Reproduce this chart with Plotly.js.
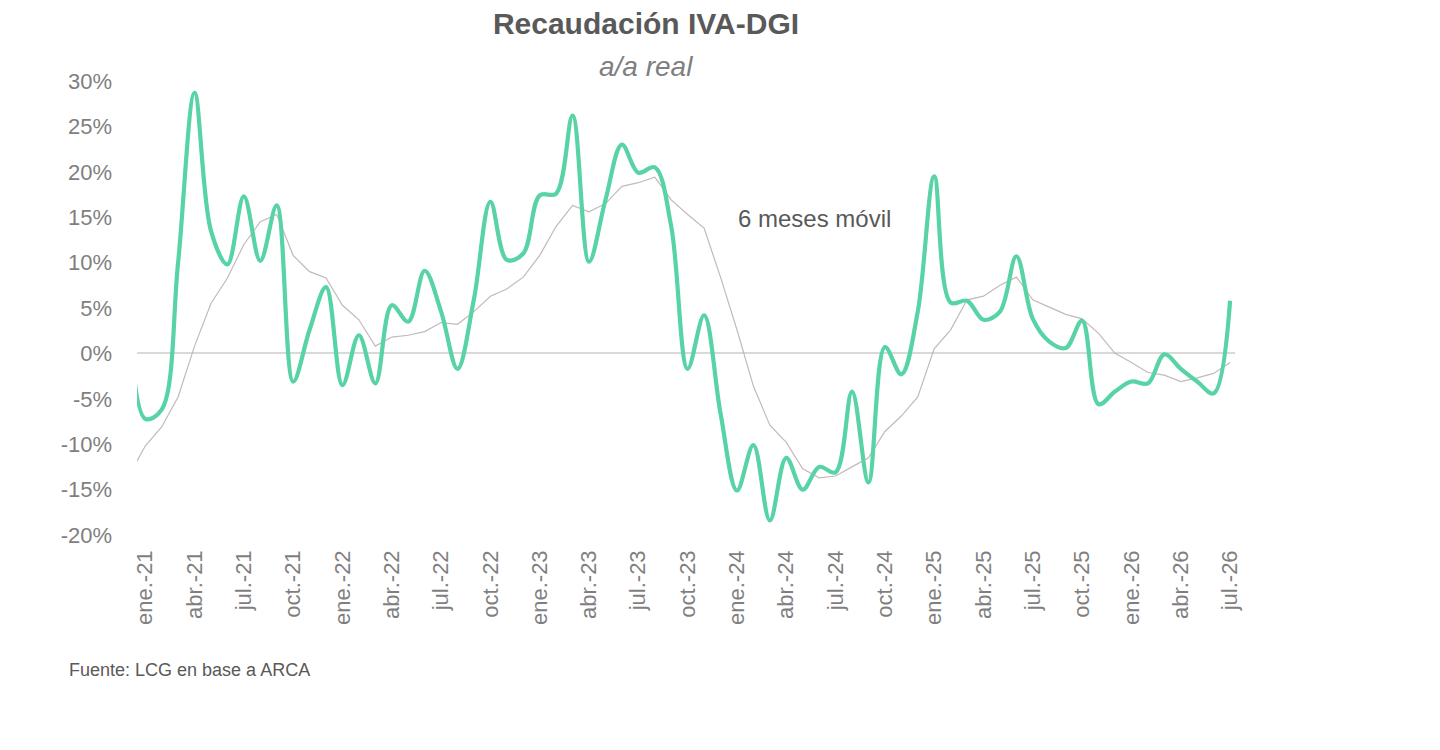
<!DOCTYPE html>
<html>
<head>
<meta charset="utf-8">
<script src="https://cdn.plot.ly/plotly-3.0.1.min.js"></script>
<style>
  html, body { margin: 0; padding: 0; background: #ffffff; }
  #grafico { width: 1440px; height: 750px; }
</style>
</head>
<body>
<div id="grafico"></div>
<script>
// Meses (dic.-20 queda recortado por el borde izquierdo del eje)
const meses = [
  'dic.-20',
  'ene.-21', 'feb.-21', 'mar.-21', 'abr.-21', 'may.-21', 'jun.-21', 'jul.-21', 'ago.-21', 'sep.-21', 'oct.-21', 'nov.-21', 'dic.-21',
  'ene.-22', 'feb.-22', 'mar.-22', 'abr.-22', 'may.-22', 'jun.-22', 'jul.-22', 'ago.-22', 'sep.-22', 'oct.-22', 'nov.-22', 'dic.-22',
  'ene.-23', 'feb.-23', 'mar.-23', 'abr.-23', 'may.-23', 'jun.-23', 'jul.-23', 'ago.-23', 'sep.-23', 'oct.-23', 'nov.-23', 'dic.-23',
  'ene.-24', 'feb.-24', 'mar.-24', 'abr.-24', 'may.-24', 'jun.-24', 'jul.-24', 'ago.-24', 'sep.-24', 'oct.-24', 'nov.-24', 'dic.-24',
  'ene.-25', 'feb.-25', 'mar.-25', 'abr.-25', 'may.-25', 'jun.-25', 'jul.-25', 'ago.-25', 'sep.-25', 'oct.-25', 'nov.-25', 'dic.-25',
  'ene.-26', 'feb.-26', 'mar.-26', 'abr.-26', 'may.-26', 'jun.-26', 'jul.-26'
];

// Recaudación IVA-DGI, var. a/a real (%)
const ivaDgi = [
  7.0,
  -7.2, -6.2, 10.0, 28.7, 13.5, 9.8, 17.3, 10.2, 16.3, -3.1, 2.6, 7.3,
  -3.5, 2.0, -3.3, 5.3, 3.5, 9.1, 4.6, -1.7, 6.0, 16.7, 10.3, 11.0,
  17.4, 17.6, 26.2, 10.1, 16.9, 23.0, 19.9, 20.5, 14.0, -1.7, 4.2, -6.6,
  -15.1, -10.1, -18.4, -11.5, -15.0, -12.5, -13.1, -4.2, -14.2, 0.7, -2.3, 4.6,
  19.5, 5.6, 5.8, 3.7, 4.6, 10.7, 3.8, 1.3, 0.6, 3.6, -5.6, -4.2,
  -3.1, -3.3, -0.1, -1.7, -3.1, -4.4, 5.8
];

// Promedio 6 meses móvil (%)
const movil6 = [
  -13.5,
  -10.2, -8.1, -4.8, 0.8, 5.5, 8.3, 12.0, 14.5, 15.3, 10.8, 9.0, 8.3,
  5.3, 3.7, 0.8, 1.8, 2.0, 2.4, 3.4, 3.2, 4.6, 6.3, 7.1, 8.4,
  10.8, 14.0, 16.3, 15.6, 16.5, 18.4, 18.8, 19.4, 16.9, 15.3, 13.8, 8.4,
  2.6, -3.6, -7.9, -9.8, -12.7, -13.7, -13.5, -12.5, -11.5, -8.6, -6.9, -4.8,
  0.5, 2.6, 5.9, 6.3, 7.5, 8.4, 5.9, 5.1, 4.3, 3.8, 2.2, 0.0,
  -1.0, -2.1, -2.4, -3.1, -2.7, -2.2, -1.0
];

const ticksX = [
  'ene.-21', 'abr.-21', 'jul.-21', 'oct.-21', 'ene.-22', 'abr.-22', 'jul.-22', 'oct.-22',
  'ene.-23', 'abr.-23', 'jul.-23', 'oct.-23', 'ene.-24', 'abr.-24', 'jul.-24', 'oct.-24',
  'ene.-25', 'abr.-25', 'jul.-25', 'oct.-25', 'ene.-26', 'abr.-26', 'jul.-26'
];

const ticksY = [-20, -15, -10, -5, 0, 5, 10, 15, 20, 25, 30];
const textosY = ['-20%', '-15%', '-10%', '-5%', '0%', '5%', '10%', '15%', '20%', '25%', '30%'];

const fuente = 'Liberation Sans, Arial, sans-serif';
const gris = '#7f7f7f';
const grisOscuro = '#595959';

const traces = [
  {
    x: meses,
    y: movil6,
    type: 'scatter',
    mode: 'lines',
    name: '6 meses móvil',
    line: { color: 'rgba(190,176,180,0.9)', width: 1.2 },
    hoverinfo: 'skip'
  },
  {
    x: meses,
    y: ivaDgi,
    type: 'scatter',
    mode: 'lines',
    name: 'IVA-DGI',
    line: { color: '#57d3a5', width: 4.2, shape: 'spline', smoothing: 1 },
    hovertemplate: '%{x}: %{y:.1f}%<extra></extra>'
  }
];

const layout = {
  width: 1440,
  height: 750,
  paper_bgcolor: '#ffffff',
  plot_bgcolor: '#ffffff',
  showlegend: false,
  margin: { l: 137, r: 205, t: 81, b: 215 },
  font: { family: fuente, color: gris },
  title: {
    text: '<b>Recaudación IVA-DGI</b>',
    xref: 'container',
    yref: 'container',
    x: 0.4486,
    y: 0.969,
    xanchor: 'center',
    yanchor: 'middle',
    font: { family: fuente, size: 30, color: grisOscuro }
  },
  xaxis: {
    type: 'category',
    range: [0.5, 67.3],
    tickvals: ticksX,
    ticktext: ticksX,
    tickangle: -90,
    ticks: '',
    ticklabelstandoff: 10,
    showgrid: false,
    showline: false,
    zeroline: false,
    tickfont: { family: fuente, size: 22, color: gris },
    fixedrange: true
  },
  yaxis: {
    range: [-20, 30],
    tickvals: ticksY,
    ticktext: textosY,
    ticks: '',
    ticklabelstandoff: 24,
    showgrid: false,
    showline: false,
    zeroline: true,
    zerolinecolor: '#d9d9d9',
    zerolinewidth: 2,
    tickfont: { family: fuente, size: 22, color: gris },
    fixedrange: true
  },
  annotations: [
    {
      text: '<i>a/a real</i>',
      xref: 'paper', yref: 'paper',
      x: 0.4636, y: 1.031,
      xanchor: 'center', yanchor: 'middle',
      showarrow: false,
      font: { family: fuente, size: 28, color: gris }
    },
    {
      text: '6 meses móvil',
      xref: 'x', yref: 'y',
      x: 41.7, y: 14.9,
      xanchor: 'center', yanchor: 'middle',
      showarrow: false,
      font: { family: fuente, size: 24, color: grisOscuro }
    },
    {
      text: 'Fuente: LCG en base a ARCA',
      xref: 'paper', yref: 'paper',
      x: -0.0638, y: -0.297,
      xanchor: 'left', yanchor: 'middle',
      showarrow: false,
      font: { family: fuente, size: 18, color: grisOscuro }
    }
  ]
};

Plotly.newPlot('grafico', traces, layout, { displayModeBar: false, staticPlot: true });
</script>
</body>
</html>
